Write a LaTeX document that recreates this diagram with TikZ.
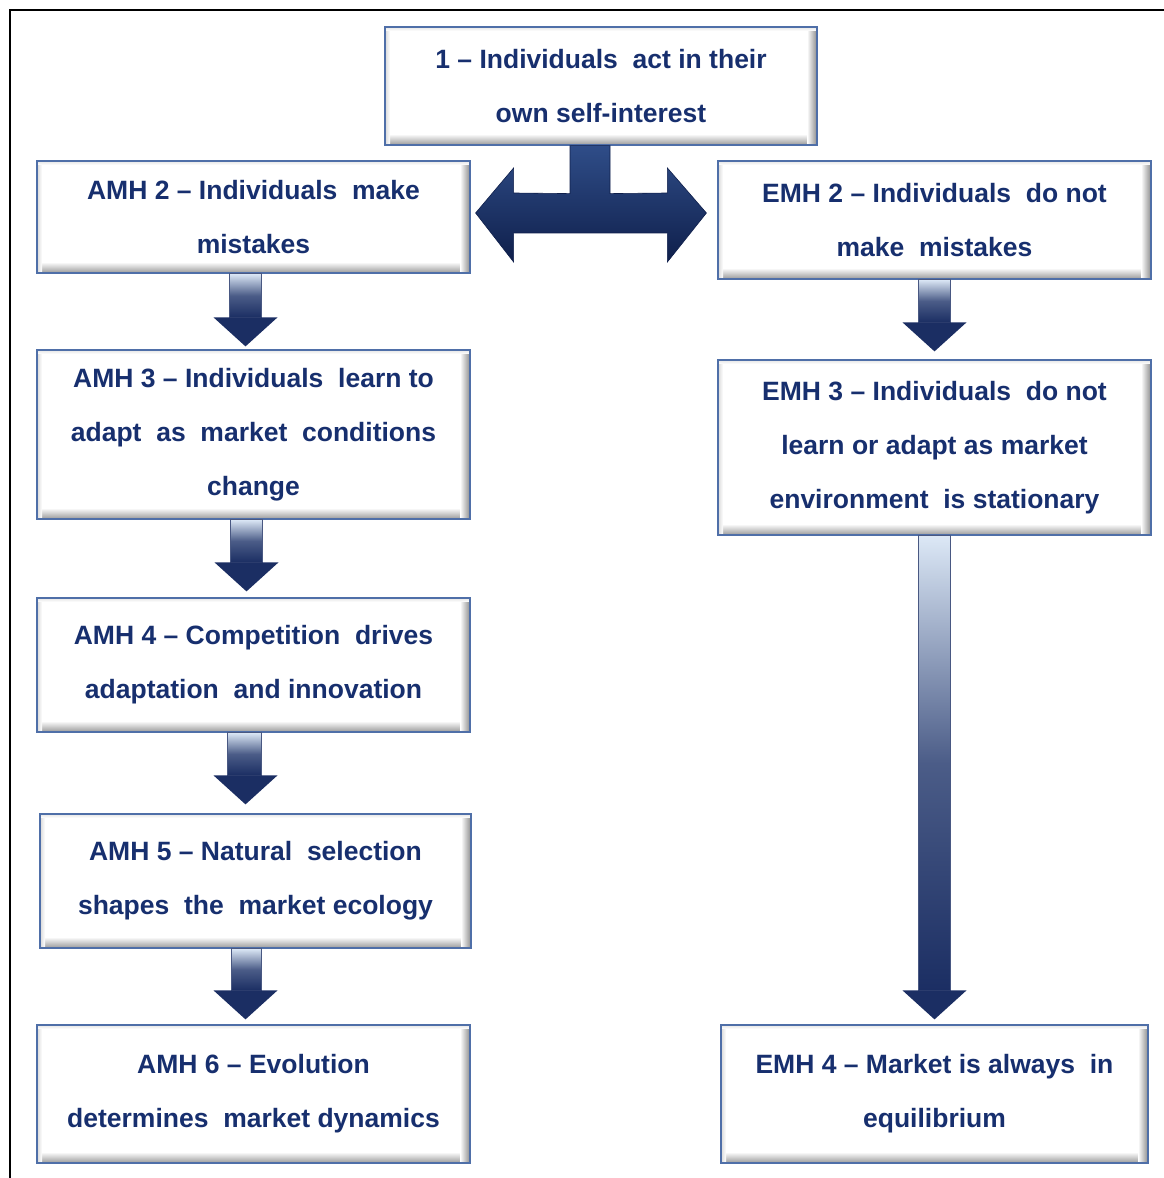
\documentclass[tikz,border=0pt]{standalone}
\usepackage{fontspec}
\setmainfont{Liberation Sans}
\usetikzlibrary{calc}
\definecolor{navy}{HTML}{1B2E63}
\definecolor{txtnavy}{HTML}{172F6E}
\definecolor{boxline}{HTML}{4F6FA8}
\definecolor{arrlight}{HTML}{DCE8F6}
\definecolor{tlight}{HTML}{2F4D88}
\definecolor{tdark}{HTML}{0F1F4B}
\tikzset{
  hbox/.style={draw=boxline, line width=1.2pt, fill=white, inner sep=0pt,
    align=center, text=txtnavy,
    font=\fontsize{26.5}{54}\selectfont\bfseries,
    path picture={
      \path (path picture bounding box.south west) coordinate (pSW)
            (path picture bounding box.north east) coordinate (pNE);
      \shade[top color=white, bottom color=black!40] (pSW) rectangle ($(pNE|-pSW)+(0,11)$);
      \shade[left color=white, right color=black!45] ($(pNE)+(-10,0)$) rectangle (pNE|-pSW);
      \shade[left color=black!15, right color=white] (pSW) rectangle ($(pSW|-pNE)+(5,0)$);
      \shade[top color=black!10, bottom color=white] ($(pSW|-pNE)+(0,-4)$) rectangle (pNE);
    }},
  frameline/.style={line width=2.5pt, black}
}
\newcommand\dnarrow[4]{% from #1 to #2, x offset #3, tip gap #4
  \shade[top color=arrlight, bottom color=navy, middle color=navy!75!arrlight,
    draw=navy!80, line width=0.6pt]
    ($(#1.south)+(#3-16,0)$) rectangle ($(#2.north)+(#3+16,#4+29)$);
  \fill[navy] ($(#2.north)+(#3-32,#4+29)$) -- ($(#2.north)+(#3+32,#4+29)$)
    -- ($(#2.north)+(#3,#4)$) -- cycle;
}
\begin{document}
\begin{tikzpicture}[x=1pt,y=1pt]
\useasboundingbox (0,0) rectangle (1164,1178);
\fill[white] (0,0) rectangle (1164,1178);
\draw[frameline] (10,0) -- (10,1168) -- (1164,1168);

\node[hbox, minimum width=432, minimum height=118] (top) at (601,1092)
  {1 -- Individuals\ \ act in their\\own self-interest};
\node[hbox, minimum width=433, minimum height=112] (amh2) at (253.5,961)
  {AMH 2 -- Individuals\ \ make\\mistakes};
\node[hbox, minimum width=433, minimum height=118] (emh2) at (934.5,958)
  {EMH 2 -- Individuals\ \ do not\\make\ \ mistakes};
\node[hbox, minimum width=433, minimum height=169] (amh3) at (253.5,743.5)
  {AMH 3 -- Individuals\ \ learn to\\adapt\ \ as\ \ market\ \ conditions\\change};
\node[hbox, minimum width=433, minimum height=175] (emh3) at (934.5,730.5)
  {EMH 3 -- Individuals\ \ do not\\learn or adapt as market\\environment\ \ is stationary};
\node[hbox, minimum width=433, minimum height=134] (amh4) at (253.5,513)
  {AMH 4 -- Competition\ \ drives\\adaptation\ \ and innovation};
\node[hbox, minimum width=431, minimum height=134] (amh5) at (255.5,297)
  {AMH 5 -- Natural\ \ selection\\shapes\ \ the\ \ market ecology};
\node[hbox, minimum width=433, minimum height=138] (amh6) at (253.5,84)
  {AMH 6 -- Evolution\\determines\ \ market dynamics};
\node[hbox, minimum width=427, minimum height=138] (emh4) at (934.5,84)
  {EMH 4 -- Market is always\ \ in\\equilibrium};

% T-shaped double arrow
\coordinate (tl) at ($(amh2.east)+(5,4)$);
\coordinate (tr) at ($(emh2.west)+(-11,7)$);
\shade[top color=tlight, bottom color=tdark, draw=tdark, line width=0.6pt]
  ($(top.south)+(-31,0)$) -- ($(top.south)+(-31,-48)$) -- ($(tl)+(38,20)$)
  -- ($(tl)+(38,45)$) -- (tl) -- ($(tl)+(38,-49)$) -- ($(tl)+(38,-20)$)
  -- ($(tr)+(-39,-20)$) -- ($(tr)+(-39,-49)$) -- (tr) -- ($(tr)+(-39,45)$)
  -- ($(tr)+(-39,20)$) -- ($(top.south)+(9,-48)$) -- ($(top.south)+(9,0)$) -- cycle;

\dnarrow{amh2}{amh3}{-8}{3}
\dnarrow{amh3}{amh4}{-7}{6}
\dnarrow{amh4}{amh5}{-10}{9}
\dnarrow{amh5}{amh6}{-8}{5}
\dnarrow{emh2}{emh3}{0}{8}
\dnarrow{emh3}{emh4}{0}{5}
\end{tikzpicture}
\end{document}
